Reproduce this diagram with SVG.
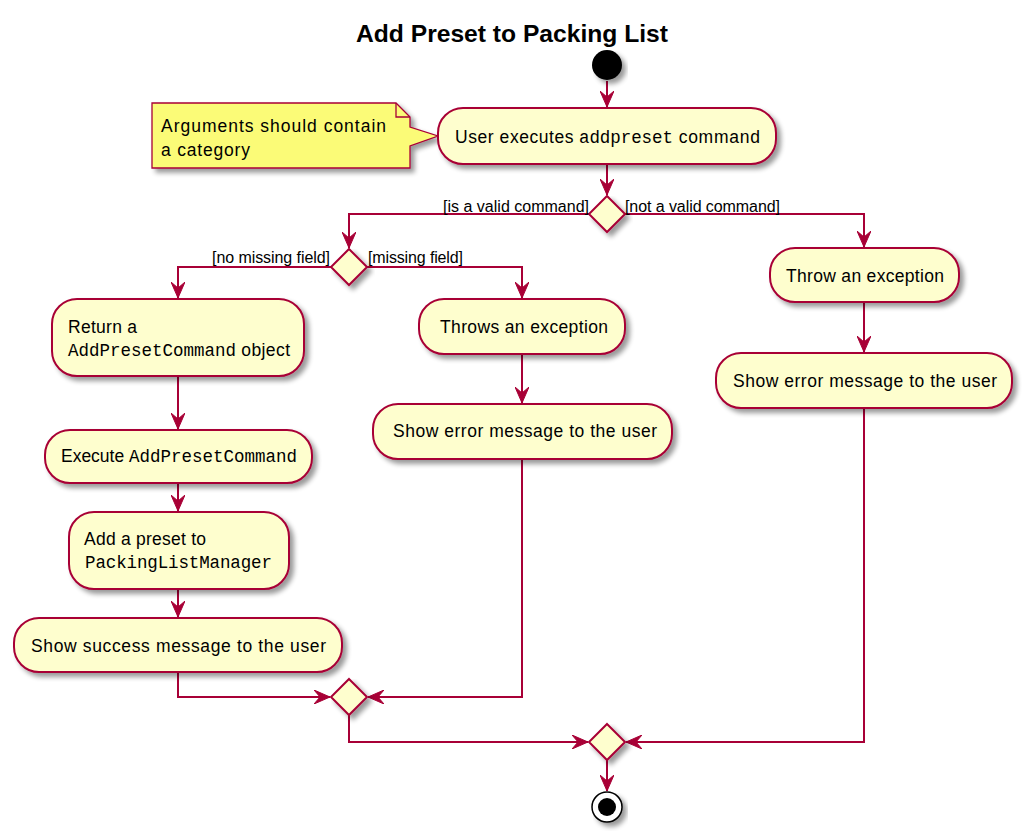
<svg xmlns="http://www.w3.org/2000/svg" width="1027" height="838" viewBox="0 0 1027 838">
<defs>
<filter id="sh" x="-10%" y="-10%" width="130%" height="140%">
<feGaussianBlur in="SourceAlpha" stdDeviation="2.5"/>
<feOffset dx="4" dy="4" result="b"/>
<feComponentTransfer><feFuncA type="linear" slope="0.4"/></feComponentTransfer>
<feMerge><feMergeNode/><feMergeNode in="SourceGraphic"/></feMerge>
</filter>
<marker id="ah" viewBox="0 0 16 14" refX="16" refY="7" markerWidth="16" markerHeight="14" markerUnits="userSpaceOnUse" orient="auto">
<polygon points="0,0 16,7 0,14 6,7" fill="#A80036" stroke="#A80036" stroke-width="1"/>
</marker>
</defs>
<style>
.box{fill:#FEFECE;stroke:#A80036;stroke-width:2;filter:url(#sh)}
.dia{fill:#FEFECE;stroke:#A80036;stroke-width:2;filter:url(#sh)}
.t{font-family:"Liberation Sans",Arial,sans-serif;font-size:17.5px;fill:#000}
.m{font-family:"Liberation Mono","Courier New",monospace;font-size:17.5px}
.lbl{font-family:"Liberation Sans",Arial,sans-serif;font-size:16px;fill:#000}
.c{fill:none;stroke:#A80036;stroke-width:2;marker-end:url(#ah)}
.cn{fill:none;stroke:#A80036;stroke-width:2}
</style>
<rect width="1027" height="838" fill="#FFFFFF"/>
<text x="356" y="42" textLength="312" lengthAdjust="spacingAndGlyphs" font-family="'Liberation Sans',Arial,sans-serif" font-size="24" font-weight="bold">Add Preset to Packing List</text>

<g id="connectors">
<path class="c" d="M607,81 L607,107"/>
<path class="c" d="M607,165 L607,195"/>
<path class="c" d="M589,214 L349,214 L349,248"/>
<path class="c" d="M625,214 L864,214 L864,247"/>
<path class="c" d="M864,303 L864,352"/>
<path class="c" d="M331,267 L178,267 L178,298"/>
<path class="c" d="M367,267 L522,267 L522,298"/>
<path class="c" d="M178,377 L178,429"/>
<path class="c" d="M178,484 L178,511"/>
<path class="c" d="M178,590 L178,617"/>
<path class="c" d="M522,355 L522,403"/>
<path class="c" d="M178,673 L178,697 L330,697"/>
<path class="c" d="M522,460 L522,697 L368,697"/>
<path class="c" d="M349,715 L349,742 L588,742"/>
<path class="c" d="M864,409 L864,742 L626,742"/>
<path class="c" d="M607,760 L607,791"/>
</g>

<g id="start"><circle cx="607" cy="65" r="15" fill="#000" filter="url(#sh)"/></g>

<g id="note">
<path d="M152,103 L396,103 L410,117 L410,127 L438,136 L410,146 L410,168 L152,168 Z" fill="#FBFB77" stroke="#A80036" stroke-width="1.3" filter="url(#sh)"/>
<path d="M396,103 L396,117 L410,117" fill="none" stroke="#A80036" stroke-width="1.3"/>
<text class="t" x="161" y="132" textLength="225" lengthAdjust="spacing">Arguments should contain</text>
<text class="t" x="161" y="156" textLength="89" lengthAdjust="spacing">a category</text>
</g>

<g id="userExecutes">
<rect class="box" x="438" y="108" width="338" height="56" rx="25" ry="25"/>
<text class="t" y="143"><tspan x="455" textLength="124" lengthAdjust="spacing">User executes </tspan><tspan class="m" x="579" textLength="94" lengthAdjust="spacing">addpreset</tspan><tspan x="673" textLength="87" lengthAdjust="spacing"> command</tspan></text>
</g>

<g id="d1"><polygon class="dia" points="607,196 625,214 607,232 589,214"/></g>
<text class="lbl" x="443" y="212" textLength="146" lengthAdjust="spacing">[is a valid command]</text>
<text class="lbl" x="625" y="212" textLength="155" lengthAdjust="spacing">[not a valid command]</text>

<g id="d2"><polygon class="dia" points="349,249 367,267 349,285 331,267"/></g>
<text class="lbl" x="212" y="263" textLength="118" lengthAdjust="spacing">[no missing field]</text>
<text class="lbl" x="368" y="263" textLength="95" lengthAdjust="spacing">[missing field]</text>

<g id="returnCmd">
<rect class="box" x="52" y="299" width="252" height="77" rx="25" ry="25"/>
<text class="t" x="68" y="333" textLength="69" lengthAdjust="spacing">Return a</text>
<text class="t" y="356"><tspan class="m" x="68" textLength="168" lengthAdjust="spacing">AddPresetCommand</tspan><tspan x="236" textLength="54" lengthAdjust="spacing"> object</tspan></text>
</g>

<g id="executeCmd">
<rect class="box" x="45" y="430" width="267" height="53" rx="25" ry="25"/>
<text class="t" y="462"><tspan x="61" textLength="68" lengthAdjust="spacing">Execute </tspan><tspan class="m" x="129" textLength="168" lengthAdjust="spacing">AddPresetCommand</tspan></text>
</g>

<g id="addPreset">
<rect class="box" x="69" y="512" width="220" height="77" rx="25" ry="25"/>
<text class="t" x="84" y="545" textLength="122" lengthAdjust="spacing">Add a preset to</text>
<text class="t" y="568"><tspan class="m" x="85" textLength="187" lengthAdjust="spacing">PackingListManager</tspan></text>
</g>

<g id="showSuccess">
<rect class="box" x="14" y="618" width="328" height="54" rx="25" ry="25"/>
<text class="t" x="31" y="652" textLength="295" lengthAdjust="spacing">Show success message to the user</text>
</g>

<g id="throwsEx">
<rect class="box" x="419" y="299" width="206" height="55" rx="25" ry="25"/>
<text class="t" x="440" y="333" textLength="168" lengthAdjust="spacing">Throws an exception</text>
</g>

<g id="showError1">
<rect class="box" x="373" y="404" width="299" height="55" rx="25" ry="25"/>
<text class="t" x="393" y="437" textLength="264" lengthAdjust="spacing">Show error message to the user</text>
</g>

<g id="throwEx">
<rect class="box" x="770" y="248" width="189" height="54" rx="25" ry="25"/>
<text class="t" x="786" y="282" textLength="158" lengthAdjust="spacing">Throw an exception</text>
</g>

<g id="showError2">
<rect class="box" x="716" y="353" width="296" height="55" rx="25" ry="25"/>
<text class="t" x="733" y="387" textLength="264" lengthAdjust="spacing">Show error message to the user</text>
</g>

<g id="merge1"><polygon class="dia" points="349,679 367,697 349,715 331,697"/></g>
<g id="merge2"><polygon class="dia" points="607,724 625,742 607,760 589,742"/></g>

<g id="end">
<circle cx="607" cy="807" r="15" fill="#FFFFFF" stroke="#000" stroke-width="1.5" filter="url(#sh)"/>
<circle cx="607" cy="807" r="9" fill="#000"/>
</g>
</svg>
